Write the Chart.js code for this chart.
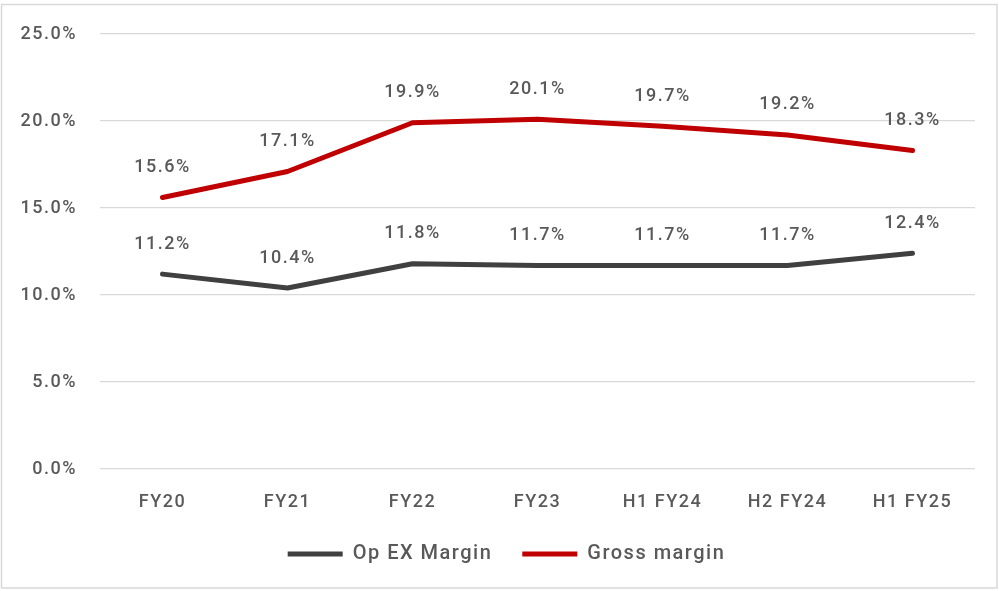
<!DOCTYPE html>
<html>
<head>
<meta charset="utf-8">
<script src="https://cdn.jsdelivr.net/npm/chart.js"></script>
<style>
  html, body { margin: 0; padding: 0; background: #ffffff; }
  #wrap { width: 999px; height: 591px; position: relative; }
</style>
</head>
<body>
<div id="wrap"><canvas id="marginChart"></canvas></div>
<script>
// Chart values
var periods = ['FY20', 'FY21', 'FY22', 'FY23', 'H1 FY24', 'H2 FY24', 'H1 FY25'];
var opexMargin = [11.2, 10.4, 11.8, 11.7, 11.7, 11.7, 12.4];
var grossMargin = [15.6, 17.1, 19.9, 20.1, 19.7, 19.2, 18.3];
var yTicks = [0, 5, 10, 15, 20, 25];

var textColor = '#595959';
var fontFamily = 'Roboto, "Noto Sans", sans-serif';

function pct(v) {
    return v.toFixed(1) + '%';
}

// Letter spacing for the canvas text (the original font is a spaced DIN style)
var spacingPlugin = {
    id: 'spacing',
    beforeUpdate: function (chart) { chart.ctx.letterSpacing = '1.5px'; },
    beforeLayout: function (chart) { chart.ctx.letterSpacing = '1.5px'; },
    beforeDraw: function (chart) { chart.ctx.letterSpacing = '1.5px'; },
    // centre the legend under the whole frame rather than the padded area
    afterLayout: function (chart) {
        if (chart.legend) chart.legend.left += 38;
    }
};

// Outer frame around the chart
var framePlugin = {
    id: 'frame',
    beforeDraw: function (chart) {
        var ctx = chart.ctx;
        ctx.save();
        ctx.fillStyle = '#ffffff';
        ctx.fillRect(0, 0, chart.width, chart.height);
        ctx.strokeStyle = '#d9d9d9';
        ctx.lineWidth = 1.5;
        ctx.strokeRect(1.5, 4.5, chart.width - 3.5, chart.height - 7.5);
        ctx.restore();
    }
};

// Value labels above every point
var valueLabels = {
    id: 'valueLabels',
    afterDatasetsDraw: function (chart) {
        var ctx = chart.ctx;
        ctx.save();
        ctx.font = '500 18px ' + fontFamily;
        ctx.fillStyle = textColor;
        ctx.textAlign = 'center';
        ctx.textBaseline = 'middle';
        chart.data.datasets.forEach(function (ds, i) {
            var meta = chart.getDatasetMeta(i);
            meta.data.forEach(function (pt, j) {
                ctx.fillText(pct(ds.data[j]), pt.x, pt.y - 30);
            });
        });
        ctx.restore();
    }
};

new Chart(document.getElementById('marginChart'), {
    type: 'line',
    data: {
        labels: periods,
        datasets: [{
            label: 'Op EX Margin',
            data: opexMargin,
            borderColor: '#404040',
            backgroundColor: '#404040',
            borderWidth: 5,
            borderCapStyle: 'round',
            borderJoinStyle: 'round',
            pointRadius: 0,
            tension: 0
        }, {
            label: 'Gross margin',
            data: grossMargin,
            borderColor: '#c00000',
            backgroundColor: '#c00000',
            borderWidth: 5,
            borderCapStyle: 'round',
            borderJoinStyle: 'round',
            pointRadius: 0,
            tension: 0
        }]
    },
    options: {
        responsive: true,
        maintainAspectRatio: false,
        animation: false,
        layout: {
            padding: { left: 0, right: 24, top: 34, bottom: 17 }
        },
        plugins: {
            legend: {
                position: 'bottom',
                labels: {
                    usePointStyle: true,
                    pointStyle: 'line',
                    pointStyleWidth: 55,
                    boxHeight: 20,
                    padding: 30,
                    color: textColor,
                    font: { family: fontFamily, size: 20, weight: '500' }
                }
            },
            tooltip: { enabled: false }
        },
        scales: {
            x: {
                offset: true,
                grid: { display: false, drawTicks: false },
                border: { display: false },
                ticks: {
                    color: textColor,
                    padding: 23,
                    maxRotation: 0,
                    font: { family: fontFamily, size: 18, weight: '500' }
                },
                afterFit: function (scale) { scale.height = 45; }
            },
            y: {
                min: 0,
                max: 25,
                afterBuildTicks: function (scale) {
                    scale.ticks = yTicks.map(function (v) { return { value: v }; });
                },
                grid: { color: '#d9d9d9', lineWidth: 1.2, drawTicks: false },
                border: { display: false },
                ticks: {
                    color: textColor,
                    padding: 23,
                    font: { family: fontFamily, size: 18, weight: '500' },
                    callback: function (v) { return pct(v); }
                },
                afterFit: function (scale) { scale.width = 100; }
            }
        }
    },
    plugins: [spacingPlugin, framePlugin, valueLabels]
});
</script>
</body>
</html>
